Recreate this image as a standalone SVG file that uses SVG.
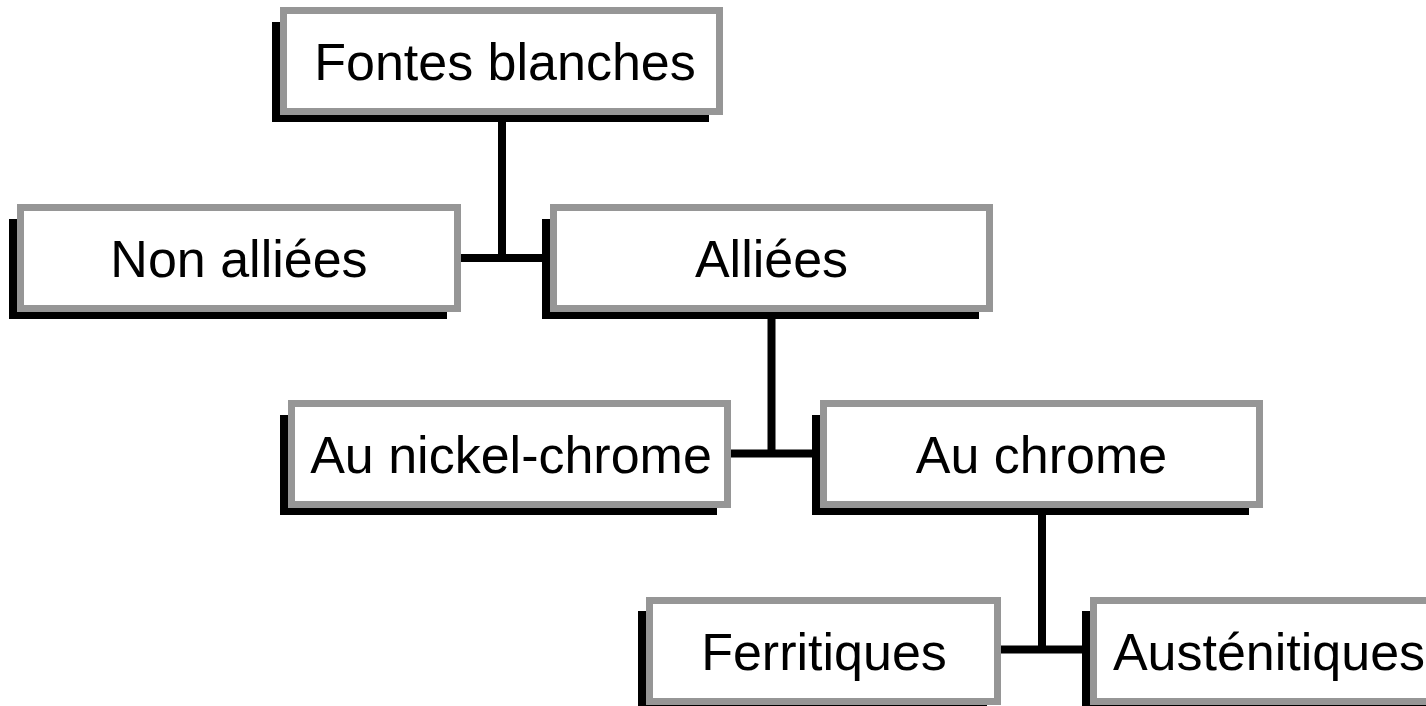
<svg xmlns="http://www.w3.org/2000/svg" width="1426" height="706" viewBox="0 0 1426 706">
<style>
.sh{fill:#000}
.bx{fill:#fff;stroke:#969696;stroke-width:7}
.t{font-family:"Liberation Sans",Arial,sans-serif;font-size:52px;fill:#000;text-anchor:middle}
.c{stroke:#000;stroke-width:8;fill:none}
</style>
<rect width="1426" height="706" fill="#fff"/>
<g id="connectors">
<path class="c" d="M502 115V262M461 258H542"/>
<path class="c" d="M771.5 312V457M731 453.5H812"/>
<path class="c" d="M1042 508V653M1001 649.5H1082"/>
</g>
<g id="n1">
<path class="sh" d="M272 22H280V115H709V122H272Z"/>
<rect class="bx" x="283.5" y="10.5" width="436" height="101"/>
<text class="t" x="505" y="79.5">Fontes blanches</text>
</g>
<g id="n2">
<path class="sh" d="M9 219H17V312H447V319H9Z"/>
<rect class="bx" x="20.5" y="207.5" width="437" height="101"/>
<text class="t" x="239" y="276.5">Non alliées</text>
</g>
<g id="n3">
<path class="sh" d="M542 219H550V312H979V319H542Z"/>
<rect class="bx" x="553.5" y="207.5" width="436" height="101"/>
<text class="t" x="771.5" y="276.5">Alliées</text>
</g>
<g id="n4">
<path class="sh" d="M280 415H288V508H717V515H280Z"/>
<rect class="bx" x="291.5" y="403.5" width="436" height="101"/>
<text class="t" x="511" y="472.5">Au nickel-chrome</text>
</g>
<g id="n5">
<path class="sh" d="M812 415H820V508H1249V515H812Z"/>
<rect class="bx" x="823.5" y="403.5" width="436" height="101"/>
<text class="t" x="1041.5" y="472.5">Au chrome</text>
</g>
<g id="n6">
<path class="sh" d="M638 611H646V705H987V712H638Z"/>
<rect class="bx" x="649.5" y="600.5" width="348" height="101"/>
<text class="t" x="824" y="669.5">Ferritiques</text>
</g>
<g id="n7">
<path class="sh" d="M1082 611H1090V705H1519V712H1082Z"/>
<rect class="bx" x="1093.5" y="600.5" width="436" height="101"/>
<text class="t" x="1269" y="669.5">Austénitiques</text>
</g>
</svg>
